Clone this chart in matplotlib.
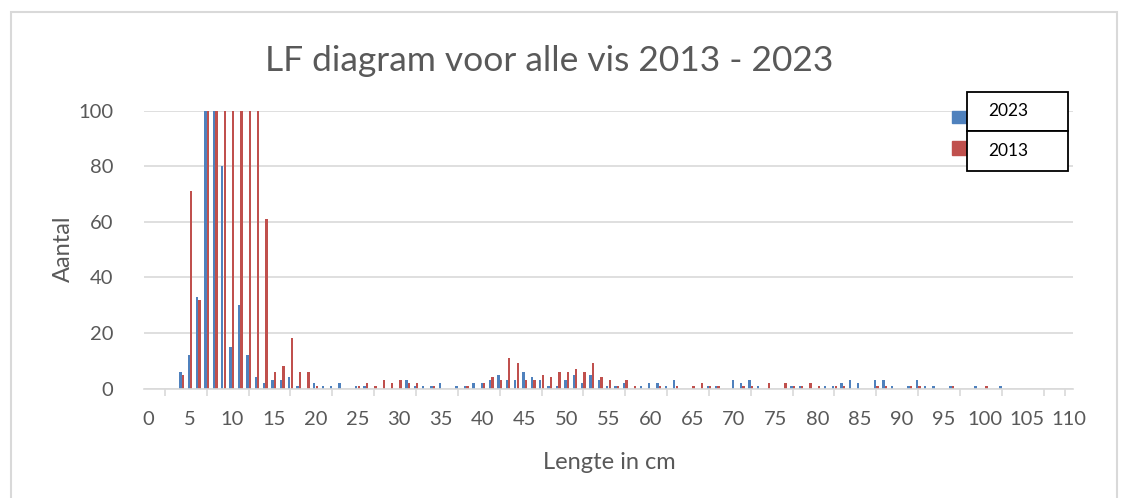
import numpy as np
import matplotlib
matplotlib.use('Agg')
import matplotlib.pyplot as plt
from matplotlib.patches import Rectangle

plt.rcParams['font.family'] = ['Lato', 'DejaVu Sans']

# lengths in cm (categories on the x axis)
lengths = np.arange(0, 111)

# counts per length (values above 100 are cut off by the axis)
counts_2023_nonzero = {
  4: 6, 5: 12, 6: 33, 7: 130, 8: 110, 9: 80, 10: 15, 11: 30, 12: 12, 13: 4,
  14: 2, 15: 3, 16: 3, 17: 4, 18: 1, 20: 2, 21: 1, 22: 1, 23: 2, 25: 1,
  26: 1, 31: 3, 32: 1, 33: 1, 34: 1, 35: 2, 37: 1, 38: 1, 39: 2, 40: 2,
  41: 3, 42: 5, 43: 3, 44: 3, 45: 6, 46: 4, 47: 3, 48: 1, 49: 1, 50: 3,
  51: 5, 52: 2, 53: 5, 54: 3, 55: 1, 56: 1, 57: 2, 59: 1, 60: 2, 61: 2,
  62: 1, 63: 3, 67: 1, 68: 1, 70: 3, 71: 2, 72: 3, 73: 1, 77: 1, 78: 1,
  81: 1, 82: 1, 83: 2, 84: 3, 85: 2, 87: 3, 88: 3, 89: 1, 91: 1, 92: 3,
  93: 1, 94: 1, 96: 1, 99: 1, 102: 1,
}
counts_2013_nonzero = {
  4: 5, 5: 71, 6: 32, 7: 150, 8: 170, 9: 160, 10: 140, 11: 130, 12: 120, 13: 110,
  14: 61, 15: 6, 16: 8, 17: 18, 18: 6, 19: 6, 20: 1, 25: 1, 26: 2, 27: 1,
  28: 3, 29: 2, 30: 3, 31: 2, 32: 2, 34: 1, 38: 1, 40: 2, 41: 4, 42: 3,
  43: 11, 44: 9, 45: 3, 46: 3, 47: 5, 48: 4, 49: 6, 50: 6, 51: 7, 52: 6,
  53: 9, 54: 4, 55: 3, 56: 1, 57: 3, 58: 1, 61: 1, 63: 1, 65: 1, 66: 2,
  67: 1, 68: 1, 71: 1, 72: 1, 74: 2, 76: 2, 77: 1, 78: 1, 79: 2, 80: 1,
  82: 1, 83: 1, 87: 1, 88: 1, 91: 1, 92: 1, 96: 1, 100: 1,
}
counts_2023 = np.array([counts_2023_nonzero.get(l, 0) for l in lengths])
counts_2013 = np.array([counts_2013_nonzero.get(l, 0) for l in lengths])

series_labels = ['2023', '2013']
series_colors = ['#4F81BD', '#C0504D']
x_tick_labels = [str(v) for v in range(0, 111, 5)]
y_ticks = [0, 20, 40, 60, 80, 100]

W, H = 1122, 498
GRID = '#D9D9D9'
TXT = '#595959'


def px_box(x0, y0, x1, y1):
  # pixel box (top-left origin) -> figure fraction rect
  return (x0 / W, 1 - y1 / H, (x1 - x0) / W, (y1 - y0) / H)


def main():
  fig = plt.figure(figsize=(W / 100, H / 100), dpi=100)
  ax = fig.add_axes([144 / W, 1 - 388.5 / H, (1073 - 144) / W, (388.5 - 110.7) / H])

  bw = 0.28
  ax.bar(lengths - 0.15, counts_2023, width=bw, color=series_colors[0], zorder=3)
  ax.bar(lengths + 0.15, counts_2013, width=bw, color=series_colors[1], zorder=3)

  ax.set_xlim(-0.5, 110.5)
  ax.set_ylim(0, 100)

  ax.set_xticks(range(0, 111, 5))
  ax.set_xticklabels(x_tick_labels)
  ax.set_xticks(list(np.arange(2, 108, 5)) + [109.6], minor=True)
  ax.tick_params(axis='x', which='major', length=0, pad=16, labelsize=14.5, labelcolor=TXT)
  ax.tick_params(axis='x', which='minor', length=5, width=1.2, color=GRID)

  ax.set_yticks(y_ticks)
  ax.tick_params(axis='y', length=0, pad=22, labelsize=14.5, labelcolor=TXT)
  ax.grid(axis='y', color=GRID, linewidth=1.2, zorder=0)

  for side in ['top', 'right', 'left']:
    ax.spines[side].set_visible(False)
  ax.spines['bottom'].set_color(GRID)
  ax.spines['bottom'].set_linewidth(1.2)
  ax.spines['bottom'].set_zorder(4)

  fig.text(549 / W, 1 - 61 / H, 'LF diagram voor alle vis 2013 - 2023',
           ha='center', va='center', fontsize=25.5, color=TXT)
  fig.text(63.5 / W, 1 - 249 / H, 'Aantal', ha='center', va='center',
           rotation=90, fontsize=17, color=TXT)
  fig.text(609 / W, 1 - 462 / H, 'Lengte in cm', ha='center', va='center',
           fontsize=17, color=TXT)

  # outer chart border
  fig.patches.append(Rectangle((11 / W, -0.05), (1117 - 11) / W, 1.05 - 12 / H,
                               transform=fig.transFigure, fill=False,
                               edgecolor=GRID, linewidth=1.5))

  # legend: colour swatches plus boxed labels
  boxes = [(91.7, 131), (131, 170.7)]
  swatches = [(110.7, 123.3), (140.7, 155)]
  for i in range(2):
    fig.patches.append(Rectangle(px_box(952, swatches[i][0], 966, swatches[i][1])[:2],
                                 14 / W, (swatches[i][1] - swatches[i][0]) / H,
                                 transform=fig.transFigure, color=series_colors[i]))
    b = px_box(967, boxes[i][0], 1068, boxes[i][1])
    fig.patches.append(Rectangle(b[:2], b[2], b[3], transform=fig.transFigure,
                                 facecolor='white', edgecolor='black', linewidth=1.3))
    fig.text(1008 / W, 1 - (boxes[i][0] + boxes[i][1]) / 2 / H, series_labels[i],
             ha='center', va='center', fontsize=12.5, color='black')

  fig.savefig('out.png', dpi=100)
  return 0


if __name__ == '__main__':
  main()
